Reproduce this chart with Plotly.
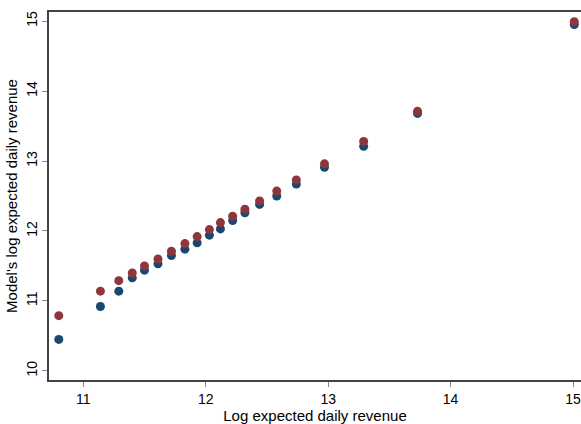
import plotly.graph_objects as go

# binned log expected daily revenue (x) and model's prediction for two series
x_vals = [10.80, 11.14, 11.29, 11.40, 11.50, 11.61, 11.72, 11.83, 11.93, 12.03,
          12.12, 12.22, 12.32, 12.44, 12.58, 12.74, 12.97, 13.29, 13.73, 15.01]
blue_y = [10.45, 10.92, 11.14, 11.33, 11.44, 11.53, 11.65, 11.74, 11.83, 11.94,
          12.03, 12.15, 12.26, 12.38, 12.50, 12.67, 12.91, 13.21, 13.68, 14.95]
red_y = [10.79, 11.14, 11.29, 11.40, 11.50, 11.60, 11.71, 11.82, 11.92, 12.02,
         12.12, 12.21, 12.31, 12.43, 12.57, 12.73, 12.96, 13.28, 13.71, 14.99]

BLUE = "#1a476f"
RED = "#90353b"
FONT = "Liberation Sans, Arial, sans-serif"

fig = go.Figure()
fig.add_trace(go.Scatter(
    x=x_vals, y=blue_y, mode="markers", cliponaxis=False,
    marker=dict(color=BLUE, size=9, line=dict(width=0)),
    showlegend=False,
))
fig.add_trace(go.Scatter(
    x=x_vals, y=red_y, mode="markers", cliponaxis=False,
    marker=dict(color=RED, size=9, line=dict(width=0)),
    showlegend=False,
))

axis_common = dict(
    showgrid=False, zeroline=False, showline=True, linecolor="#444444",
    linewidth=1.5, ticks="outside", ticklen=5, tickwidth=1, tickcolor="#888888",
    tickfont=dict(family=FONT, size=14, color="#000000"),
    ticklabeloverflow="allow",
)

fig.update_layout(
    width=581, height=424,
    margin=dict(l=49, r=0, t=12, b=44, autoexpand=False),
    paper_bgcolor="white", plot_bgcolor="white",
    font=dict(family=FONT, color="#000000"),
    xaxis=dict(
        range=[10.72, 15.065], tickvals=[11, 12, 13, 14, 15], mirror=True,
        title=dict(text="Log expected daily revenue", font=dict(size=15), standoff=3),
        **axis_common,
    ),
    yaxis=dict(
        range=[9.87, 15.13], tickvals=[10, 11, 12, 13, 14, 15], tickangle=-90,
        title=dict(text="Model's log expected daily revenue", font=dict(size=15), standoff=2),
        **axis_common,
    ),
)

# drop the page's default body margin so the figure sits at the window's corner
fig.write_html(
    "out.html",
    config={"displayModeBar": False},
    post_script="document.body.style.margin='0';",
)
